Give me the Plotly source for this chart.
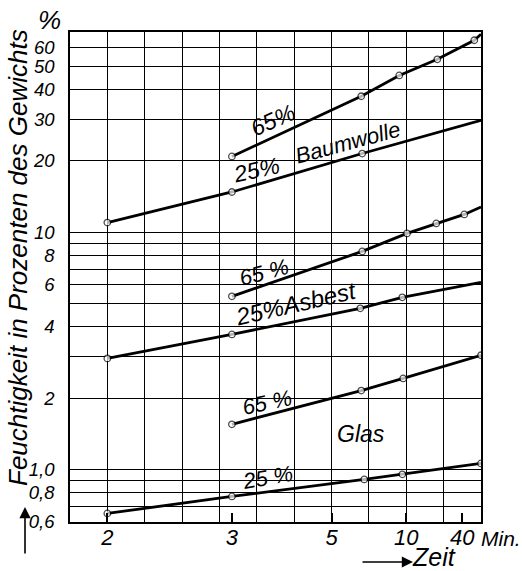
import numpy as np
import plotly.graph_objects as go

# Feuchtigkeitsaufnahme (Prozent des Gewichts) ueber der Zeit in Minuten.
# np.inf steht fuer den Endwert (Zeit -> unendlich, rechter Rand).
INF = np.inf

baum65_t = [3, 6.24, 9.14, 17.1, 111, INF]
baum65_v = [20.9, 37.5, 45.9, 53.7, 64.6, 68.5]
baum65_mark = [1, 1, 1, 1, 1, 0]

baum25_t = [2, 3, 6.29, INF]
baum25_v = [11.0, 14.8, 21.5, 29.7]
baum25_mark = [1, 1, 1, 0]

asb65_t = [3, 6.29, 10.1, 16.7, 44.7, INF]
asb65_v = [5.37, 8.31, 9.90, 10.9, 11.9, 12.8]
asb65_mark = [1, 1, 1, 1, 1, 0]

asb25_t = [2, 3, 6.19, 9.49, INF]
asb25_v = [2.94, 3.71, 4.78, 5.32, 6.15]
asb25_mark = [1, 1, 1, 1, 0]

glas65_t = [3, 6.24, 9.6, INF]
glas65_v = [1.55, 2.15, 2.42, 3.03]
glas65_mark = [1, 1, 1, 1]

glas25_t = [2, 3, 6.4, 9.5, INF]
glas25_v = [0.652, 0.769, 0.907, 0.953, 1.06]
glas25_mark = [1, 1, 1, 1, 1]

x_tick_min = [2, 3, 5, 10, 40]
x_tick_text = ["2", "3", "5", "10", "40"]

y_grid = [0.6, 0.7, 0.8, 0.9, 1, 2, 3, 4, 5, 6, 7, 8, 9, 10, 20, 30, 40, 50, 60, 70]
y_label = {0.6: "0,6", 0.8: "0,8", 1: "1,0", 2: "2", 4: "4", 6: "6", 8: "8",
           10: "10", 20: "20", 30: "30", 40: "40", 50: "50", 60: "60"}

FONT = "Liberation Sans, Arial, sans-serif"


def recip(t):
    # Zeitachse ist linear in 1/t geteilt
    return 1.0 / np.asarray(t, dtype=float)


def ifont(size):
    return dict(family=FONT, size=size, style="italic", color="black")


fig = go.Figure()

series = [
    (baum65_t, baum65_v, baum65_mark),
    (baum25_t, baum25_v, baum25_mark),
    (asb65_t, asb65_v, asb65_mark),
    (asb25_t, asb25_v, asb25_mark),
    (glas65_t, glas65_v, glas65_mark),
    (glas25_t, glas25_v, glas25_mark),
]
for t, v, m in series:
    fig.add_trace(go.Scatter(
        x=recip(t), y=v, mode="lines+markers",
        line=dict(color="black", width=2.8),
        marker=dict(symbol="circle", size=[6.5 if k else 0 for k in m],
                    color="white", line=dict(color="black", width=1.3)),
        showlegend=False, hoverinfo="skip",
    ))

# unsichtbare Kurve, damit die beschriftete Zeitachse gezeichnet wird
fig.add_trace(go.Scatter(
    x=recip(glas25_t), y=glas25_v, xaxis="x2", mode="lines",
    line=dict(width=0), opacity=0, showlegend=False, hoverinfo="skip",
))

grid_recip = np.round(np.arange(0, 0.5501, 0.05), 3)
x_range = [0.55, 0.0]

fig.update_layout(
    width=522, height=571,
    margin=dict(l=70, r=41, t=32, b=49),
    paper_bgcolor="white", plot_bgcolor="white",
    font=dict(family=FONT, color="black"),
    xaxis=dict(
        range=x_range, tickvals=list(grid_recip), showticklabels=False,
        ticks="", showgrid=True, gridcolor="black", gridwidth=1,
        showline=True, mirror=True, linecolor="black", linewidth=1.6,
        zeroline=False,
    ),
    xaxis2=dict(
        overlaying="x", anchor="y", side="bottom", range=x_range,
        tickvals=list(recip(x_tick_min)), ticktext=x_tick_text,
        ticks="inside", ticklen=9, tickwidth=1.5, tickcolor="black",
        showgrid=False, zeroline=False, showline=False,
        tickfont=ifont(22),
    ),
    yaxis=dict(
        type="log", range=[np.log10(0.6), np.log10(70)],
        tickvals=y_grid, ticktext=[y_label.get(v, "") for v in y_grid],
        ticks="", showgrid=True, gridcolor="black", gridwidth=1,
        showline=True, mirror=True, linecolor="black", linewidth=1.6,
        zeroline=False, ticklabelstandoff=10,
        tickfont=ifont(18.5),
    ),
)


def label(text, u, logy, size=22, angle=0):
    fig.add_annotation(x=u, y=logy, xref="x", yref="y", text=text,
                       xanchor="center", yanchor="middle",
                       showarrow=False, textangle=angle, font=ifont(size))


label("65%", 0.278, 1.473, 23, -24)
label("25%", 0.301, 1.262, 23, -12)
label("Baumwolle", 0.178, 1.380, 22, -15)
label("65 %", 0.291, 0.831, 22, -15)
label("25%Asbest", 0.247, 0.700, 24, -13)
label("65 %", 0.286, 0.283, 22, -12)
label("Glas", 0.160, 0.148, 23, 0)
label("25 %", 0.286, -0.034, 22, -10)


def paper_text(text, px, py, size, angle=0, xanchor="center"):
    fig.add_annotation(xref="paper", yref="paper",
                       x=(px - 70) / 411, y=(522 - py) / 490,
                       text=text, textangle=angle, showarrow=False,
                       xanchor=xanchor, yanchor="middle", font=ifont(size))


def paper_arrow(px, py, dx, dy):
    fig.add_annotation(xref="paper", yref="paper",
                       x=(px - 70) / 411, y=(522 - py) / 490,
                       ax=dx, ay=dy, text="", showarrow=True, arrowhead=2,
                       arrowsize=1.4, arrowwidth=1.6, arrowcolor="black")


# Achsenbeschriftungen
paper_text("Feuchtigkeit in Prozenten des Gewichts", 18, 258, 26, angle=-90)
paper_arrow(25, 507, 0, 48)
paper_text("%", 49, 20, 26)
paper_text("Min.", 479, 538, 21, xanchor="left")
paper_text("Zeit", 434, 557, 25)
paper_arrow(413, 562, -52, 0)

fig.write_html("out.html")
